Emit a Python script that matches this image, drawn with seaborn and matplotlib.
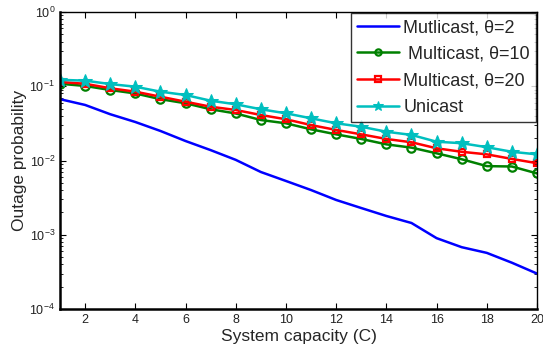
import numpy as np
import pandas as pd
import seaborn as sns
from matplotlib import pyplot as plt

# values (log-scale y)
capacity = list(range(1, 21))
mc_theta2 = [0.067, 0.056, 0.042, 0.033, 0.025, 0.0183, 0.0138, 0.0102, 0.0070, 0.0053,
             0.0040, 0.00294, 0.00229, 0.00179, 0.00144, 0.00090, 0.00068, 0.00057, 0.00042, 0.00030]
mc_theta10 = [0.108, 0.101, 0.089, 0.080, 0.067, 0.059, 0.049, 0.043, 0.0351, 0.0317,
              0.0263, 0.0225, 0.0195, 0.0165, 0.0149, 0.0125, 0.0104, 0.0084, 0.0083, 0.0067]
mc_theta20 = [0.114, 0.108, 0.094, 0.0845, 0.0723, 0.0619, 0.053, 0.0479, 0.041, 0.0359,
              0.030, 0.0258, 0.0225, 0.0195, 0.0176, 0.0146, 0.0131, 0.0121, 0.0105, 0.0092]
unicast = [0.122, 0.119, 0.107, 0.0986, 0.0845, 0.0762, 0.0639, 0.0571, 0.049, 0.0432,
           0.037, 0.0317, 0.0285, 0.0244, 0.0221, 0.0179, 0.0171, 0.0151, 0.0131, 0.0121]
labels = ["Mutlicast, \u03b8=2", " Multicast, \u03b8=10", "Multicast, \u03b8=20", "Unicast"]

sns.set_theme(style="ticks")
plt.rcParams["font.family"] = ["Liberation Sans", "DejaVu Sans"]

fig = plt.figure(figsize=(5.43, 3.52), dpi=100)
ax = fig.add_axes([60 / 543, 1 - 309 / 352, 477 / 543, 297 / 352])

series = [mc_theta2, mc_theta10, mc_theta20, unicast]
styles = [
    dict(color="#0000ff", marker=None),
    dict(color="#008000", marker="o", markersize=6, markerfacecolor="none",
         markeredgewidth=1.6, markeredgecolor="#008000"),
    dict(color="#ff0000", marker="s", markersize=5, markerfacecolor="none",
         markeredgewidth=1.6, markeredgecolor="#ff0000"),
    dict(color="#00bfbf", marker="*", markersize=10, markeredgecolor="#00bfbf"),
]
for vals, lab, st in zip(series, labels, styles):
    df = pd.DataFrame({"C": capacity, "p": vals})
    sns.lineplot(data=df, x="C", y="p", ax=ax, label=lab, linewidth=1.8, **st)

ax.set_yscale("log")
ax.set_xlim(1, 20)
ax.set_ylim(1e-4, 1)
ax.set_xticks(range(2, 21, 2))
ax.tick_params(which="both", direction="in", top=True, right=True, labelsize=9,
               color="black", labelcolor="#222222")
ax.tick_params(which="major", length=4, width=0.8)
ax.tick_params(which="minor", length=2, width=0.6)
for s in ax.spines.values():
    s.set_color("black")
    s.set_linewidth(1.0)
ax.spines["left"].set_linewidth(1.8)
ax.spines["bottom"].set_linewidth(1.8)
ax.set_xlabel("System capacity (C)", fontsize=12.5, labelpad=2)
ax.set_ylabel("Outage probability", fontsize=12.5, labelpad=2)

leg = ax.legend(loc="upper right", fontsize=13, frameon=True, fancybox=False,
                borderaxespad=0.05, handlelength=2.3, labelspacing=0.53,
                borderpad=0.35, handletextpad=0.25, markerscale=0.75)
leg.get_frame().set_edgecolor("black")
leg.get_frame().set_linewidth(1.0)

fig.savefig("out.png", dpi=100)
